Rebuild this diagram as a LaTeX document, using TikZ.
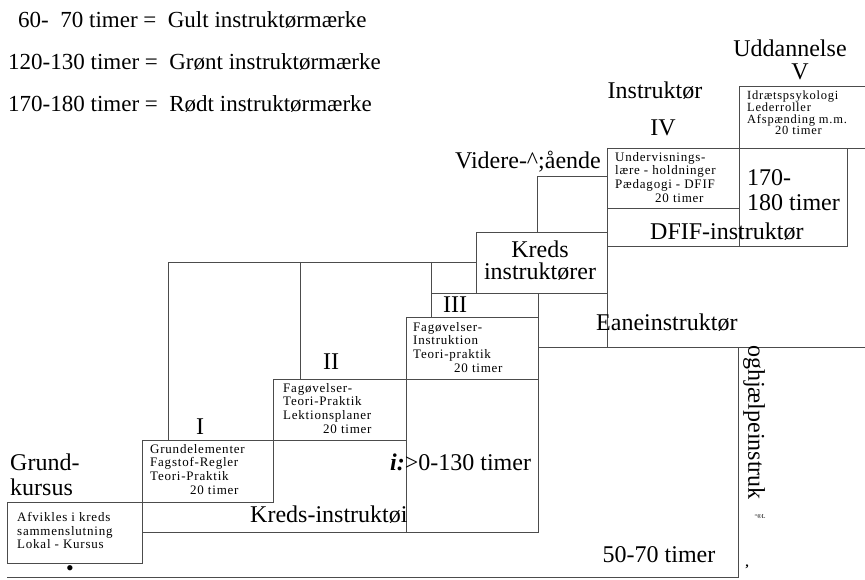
\documentclass[tikz,border=0pt]{standalone}
\usepackage{fontspec}
\setmainfont{Liberation Serif}
\newfontfamily\lessonfont[LetterSpace=6]{Liberation Serif}
\def\bigsize{\fontsize{24}{26}\selectfont}
\tikzset{
stair/.style={draw=black!70,line width=0.8pt},
lesson/.style={font=\lessonfont\fontsize{13}{13.7}\selectfont,align=left,anchor=north west,inner sep=0pt},
bigtext/.style={font=\bigsize,inner sep=0pt},
legend/.style={font=\fontsize{23}{25}\selectfont,anchor=west,inner sep=0pt}
}
\begin{document}
\begin{tikzpicture}[x=1pt,y=-1pt]
\useasboundingbox (0,0) rectangle (865,580);
\draw [stair] (7,502) rectangle (142,563) ;
\draw [stair] (142,440) rectangle (273,502) ;
\draw [stair] (273,379) rectangle (406,440) ;
\draw [stair] (406,317) rectangle (538,379) ;
\draw [stair] (607,148) rectangle (739,208) ;
\draw [stair] (739,148) rectangle (847,246) ;
\draw [stair] (739,148) -- (739,86) -- (865,86) (847,148) -- (865,148) ;
\draw [stair] (607,246) -- (739,246) (607,148) -- (607,347) ;
\draw [stair] (538,347) -- (865,347) ;
\draw [stair] (476,293) -- (476,232) -- (607,232) (537,232) -- (537,176) -- (607,176) ;
\draw [stair] (431,317) -- (431,293) -- (607,293) ;
\draw [stair] (168,440) -- (168,262) -- (476,262) (300,262) -- (300,379) (431,262) -- (431,293) ;
\draw [stair] (538,293) -- (538,532) -- (142,532) -- (142,563) ;
\draw [stair] (406,379) -- (406,532) ;
\draw [stair] (738,347) -- (738,577) -- (7,577) ;
\node (gult) [legend] at (18,20) {60-\ \ 70 timer = \ Gult instruktørmærke};
\node (groent) [legend] at (8,62) {120-130 timer = \ Grønt instruktørmærke};
\node (roedt) [legend] at (8,104) {170-180 timer = \ Rødt instruktørmærke};
\node (grundtxt) [lesson] at (17,512) {Afvikles i kreds\\sammenslutning\\Lokal - Kursus};
\node (itxt) [lesson] at (150,444) {Grundelementer\\Fagstof-Regler\\Teori-Praktik\\\hspace*{40pt}20 timer};
\node (iitxt) [lesson] at (283,383) {Fagøvelser-\\Teori-Praktik\\Lektionsplaner\\\hspace*{40pt}20 timer};
\node (iiitxt) [lesson] at (413,322) {Fagøvelser-\\Instruktion\\Teori-praktik\\\hspace*{41pt}20 timer};
\node (ivtxt) [lesson] at (615,152) {Undervisnings-\\lære - holdninger\\Pædagogi - DFIF\\\hspace*{40pt}20 timer};
\node (vtxt) [lesson,font=\lessonfont\fontsize{12.5}{11.7}\selectfont] at (747,91) {Idrætspsykologi\\Lederroller\\Afspænding m.m.\\\hspace*{28pt}20 timer};
\node (grund) [bigtext,anchor=west] at (10,462) {Grund-};
\node (kursus) [bigtext,anchor=west] at (10,487) {kursus};
\node (one) [bigtext] at (200,427) {I};
\node (two) [bigtext] at (331,362) {II};
\node (three) [bigtext] at (455,305) {III};
\node (four) [bigtext] at (663,128) {IV};
\node (five) [bigtext] at (800,72) {V};
\node (uddannelse) [bigtext] at (790,48) {Uddannelse};
\node (instruktoer) [bigtext] at (655,91) {Instruktør};
\node (videre) [bigtext] at (528,162) {Videre-\textasciicircum;ående};
\node (kreds) [bigtext] at (540,249) {Kreds};
\node (kredsinstr) [bigtext] at (540,272) {instruktører};
\node (hundred) [bigtext,anchor=west] at (747,178) {170-};
\node (hours) [bigtext,anchor=west] at (747,203) {180 timer};
\node (dfif) [bigtext,anchor=west] at (650,232) {DFIF-instruktør};
\node (eane) [bigtext,anchor=west] at (596,323) {Eaneinstruktør};
\node (middle) [bigtext,anchor=west] at (390,462) {\textbf{\textit{i:}}>0-130 timer};
\node (kredsline) [bigtext,anchor=west] at (250,515) {Kreds-instruktøi};
\node (basic) [bigtext] at (659,555) {50-70 timer};
\node (hjaelp) [bigtext,rotate=-90,anchor=west] at (754,345) {oghjælpeinstruk};
\node (mark) [font=\fontsize{6}{7}\selectfont,inner sep=0pt] at (760,517) {“®L};
\node (tick) [font=\bfseries\fontsize{13}{13}\selectfont,inner sep=0pt,anchor=north] at (747,565) {'};
\node (dot) [font=\fontsize{22}{22}\selectfont,inner sep=0pt] at (70,571) {•};
\end{tikzpicture}
\end{document}
